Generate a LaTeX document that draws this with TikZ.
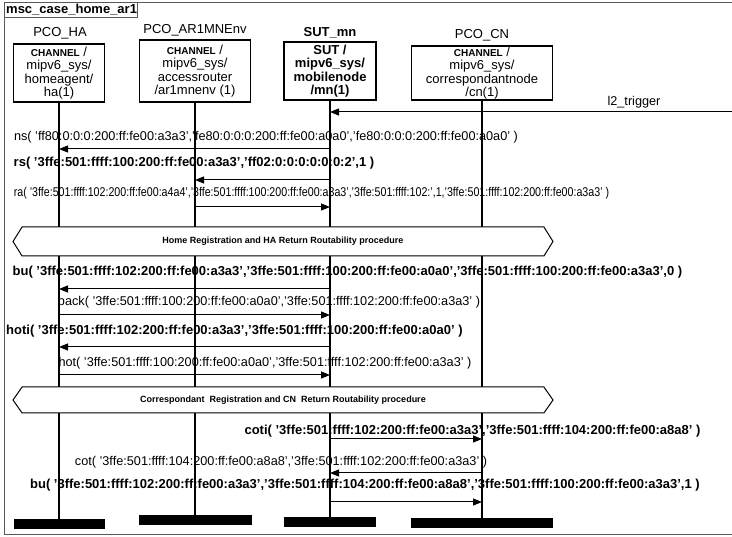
\documentclass[tikz,border=0pt]{standalone}
\usepackage{fontspec}
\setmainfont{Liberation Sans}
\usetikzlibrary{arrows.meta,shapes.symbols}

\newcommand{\chan}{{\fontsize{10}{10}\selectfont\bfseries CHANNEL} /}

\tikzset{
  inst/.style={draw, line width=1.2pt, align=center, inner sep=0pt,
    font=\fontsize{13}{13.3}\selectfont},
  head/.style={font=\fontsize{13}{13}\selectfont, inner sep=0pt},
  endbar/.style={fill=black, inner sep=0pt, minimum height=10pt},
  life/.style={line width=1.3pt},
  msg/.style={-{Triangle[length=9pt,width=7pt]}, line width=1pt},
  lbl/.style={font=\fontsize{12.7}{13}\selectfont, inner sep=0pt},
  blbl/.style={font=\fontsize{13}{13}\selectfont\bfseries, inner sep=0pt},
  proc/.style={draw, fill=white, line width=1pt, signal, signal to=west and east,
    inner sep=0pt, minimum width=540pt, font=\fontsize{9}{9}\selectfont\bfseries}
}

\begin{document}
\begin{tikzpicture}[x=1pt, y=-1pt]
  \useasboundingbox (0,0) rectangle (732,537);

  % frame and title
  \draw[black!65, line width=1pt] (745,3) -- (4,3) -- (4,535) -- (745,535);
  \node[blbl, anchor=west] (title) at (6,10) {msc\_case\_home\_ar1};
  \draw[black!65, line width=1pt] (4,18) -| (title.east |- 0,3);

  % instance heads
  \node[head] (ha-name) at (60,33) {PCO\_HA};
  \node[head] (ar-name) at (195,30) {PCO\_AR1MNEnv};
  \node[head, font=\fontsize{13}{13}\selectfont\bfseries] (mn-name) at (330,33) {SUT\_mn};
  \node[head] (cn-name) at (482,35) {PCO\_CN};

  \node[inst, minimum width=91pt, minimum height=58pt] (ha) at (59,73)
    {\chan\\mipv6\_sys/\\homeagent/\\ha(1)};
  \node[inst, minimum width=111pt, minimum height=62pt] (ar) at (195,71)
    {\chan\\mipv6\_sys/\\accessrouter\\/ar1mnenv (1)};
  \node[inst, line width=2pt, minimum width=92pt, minimum height=58pt,
    font=\fontsize{13}{13.5}\selectfont\bfseries] (mn) at (330,71)
    {SUT /\\mipv6\_sys/\\mobilenode\\/mn(1)};
  \node[inst, minimum width=141pt, minimum height=54pt] (cn) at (482,73)
    {\chan\\mipv6\_sys/\\correspondantnode\\/cn(1)};

  % instance ends
  \node[endbar, minimum width=91pt] (ha-end) at (59,524.5) {};
  \node[endbar, minimum width=113pt] (ar-end) at (195,520) {};
  \node[endbar, minimum width=92pt] (mn-end) at (330,522) {};
  \node[endbar, minimum width=142pt] (cn-end) at (482,523) {};

  % lifelines
  \draw[life] (ha) -- (ha-end);
  \draw[life] (ar) -- (ar-end);
  \draw[life] (mn) -- (mn-end);
  \draw[life] (cn) -- (cn-end);

  % environment trigger
  \coordinate (env) at (732,112);
  \node[lbl] (l2) at (634,102) {l2\_trigger};
  \draw[msg] (env) -- (mn |- env);

  % neighbour discovery, router solicitation/advertisement
  \node[lbl] (ns) at (266,137)
    {ns( 'ff80:0:0:0:200:ff:fe00:a3a3','fe80:0:0:0:200:ff:fe00:a0a0','fe80:0:0:0:200:ff:fe00:a0a0' )};
  \draw[msg] (mn |- 0,149) -- (ha |- 0,149);
  \node[blbl] (rs) at (194,163)
    {rs( '3ffe:501:ffff:100:200:ff:fe00:a3a3','ff02:0:0:0:0:0:0:2',1 )};
  \draw[msg] (mn |- 0,180) -- (ar |- 0,180);
  \node[lbl] (ra) at (311.5,193)
    {\scalebox{0.84}[1]{ra( '3ffe:501:ffff:102:200:ff:fe00:a4a4','3ffe:501:ffff:100:200:ff:fe00:a3a3','3ffe:501:ffff:102:',1,'3ffe:501:ffff:102:200:ff:fe00:a3a3' )}};
  \draw[msg] (ar |- 0,207) -- (mn |- 0,207);

  \node[proc, minimum height=29pt, signal pointer angle=116] (hrr) at (283,241.5)
    {Home Registration and HA Return Routability procedure};

  % home registration
  \node[blbl] (bu1) at (347.5,272)
    {bu( '3ffe:501:ffff:102:200:ff:fe00:a3a3','3ffe:501:ffff:100:200:ff:fe00:a0a0','3ffe:501:ffff:100:200:ff:fe00:a3a3',0 )};
  \draw[msg] (mn |- 0,289) -- (ha |- 0,289);
  \node[lbl] (back) at (269,302)
    {back( '3ffe:501:ffff:100:200:ff:fe00:a0a0','3ffe:501:ffff:102:200:ff:fe00:a3a3' )};
  \draw[msg] (ha |- 0,315) -- (mn |- 0,315);
  \node[blbl] (hoti) at (234.5,331)
    {hoti( '3ffe:501:ffff:102:200:ff:fe00:a3a3','3ffe:501:ffff:100:200:ff:fe00:a0a0' )};
  \draw[msg] (mn |- 0,347) -- (ha |- 0,347);
  \node[lbl] (hot) at (265,363)
    {hot( '3ffe:501:ffff:100:200:ff:fe00:a0a0','3ffe:501:ffff:102:200:ff:fe00:a3a3' )};
  \draw[msg] (ha |- 0,375) -- (mn |- 0,375);

  \node[proc, minimum height=26pt, signal pointer angle=110] (crr) at (283,400)
    {Correspondant\ \ Registration and CN\ \ Return Routability procedure};

  % correspondent registration
  \node[blbl] (coti) at (472.5,431)
    {coti( '3ffe:501:ffff:102:200:ff:fe00:a3a3','3ffe:501:ffff:104:200:ff:fe00:a8a8' )};
  \draw[msg] (mn |- 0,439) -- (cn |- 0,439);
  \node[lbl] (cot) at (281,462)
    {cot( '3ffe:501:ffff:104:200:ff:fe00:a8a8','3ffe:501:ffff:102:200:ff:fe00:a3a3' )};
  \draw[msg] (cn |- 0,473) -- (mn |- 0,473);
  \node[blbl] (bu2) at (365,485)
    {bu( '3ffe:501:ffff:102:200:ff:fe00:a3a3','3ffe:501:ffff:104:200:ff:fe00:a8a8','3ffe:501:ffff:100:200:ff:fe00:a3a3',1 )};
  \draw[msg] (mn |- 0,502) -- (cn |- 0,502);
\end{tikzpicture}
\end{document}
